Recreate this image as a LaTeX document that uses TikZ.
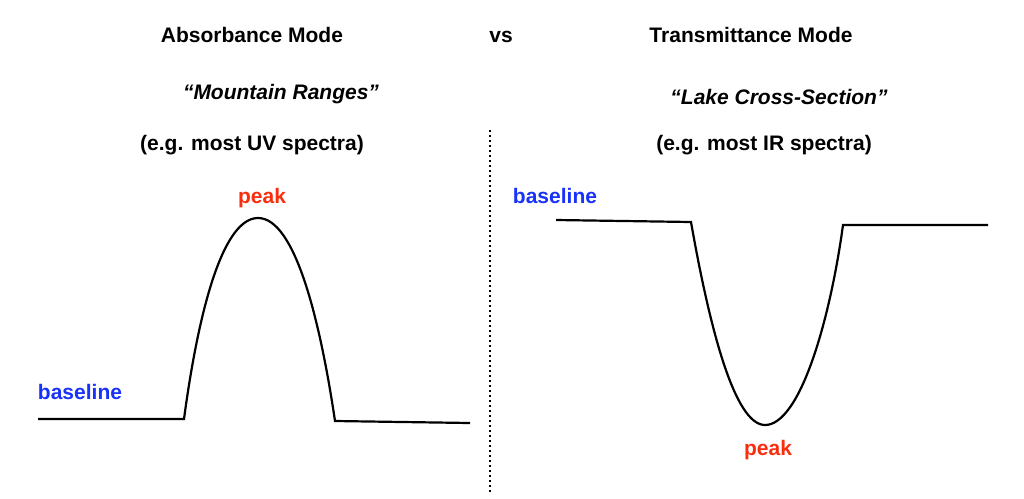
\documentclass[tikz,border=0pt]{standalone}
\usepackage{fontspec}
\setmainfont{Liberation Sans}
\definecolor{bl}{RGB}{25,50,250}
\definecolor{rd}{RGB}{250,45,15}
\begin{document}
\begin{tikzpicture}[x=1pt,y=-1pt,
  lbl/.style={font=\bfseries\fontsize{21}{25}\selectfont},
  it/.style={font=\bfseries\itshape\fontsize{21}{25}\selectfont},
  curve/.style={line width=2.2pt}]
\useasboundingbox (0,0) rectangle (1024,498);
\node[lbl] (t1) at (252,35) {Absorbance Mode};
\node[lbl] (vs) at (501,37) {vs};
\node[lbl] (t2) at (751,35) {Transmittance Mode};
\node[it] (m) at (281,94) {“Mountain Ranges”};
\node[it] (l) at (779,97) {“Lake Cross-Section”};
\node[lbl] (e1) at (252,145) {(e.g. most UV spectra)};
\node[lbl] (e2) at (764,145) {(e.g. most IR spectra)};
\node[lbl,text=rd] (p1) at (262,198) {peak};
\node[lbl,text=bl] (b1) at (80,392) {baseline};
\node[lbl,text=bl] (b2) at (555,196) {baseline};
\node[lbl,text=rd] (p2) at (768,450) {peak};
\coordinate (dt) at (490,130);
\coordinate (db) at (490,492);
\draw[line width=1.8pt, dash pattern=on 2pt off 3pt] (dt) -- (db);
\draw[curve] (38,419) -- (184,419) .. controls (200,300) and (225,218) .. (258,218)
  .. controls (295,218) and (320,320) .. (335,421) -- (470,423);
\draw[curve] (556,220) -- (691,222) .. controls (710,330) and (735,425) .. (765,425)
  .. controls (800,425) and (830,320) .. (843,225) -- (988,225);
\end{tikzpicture}
\end{document}
